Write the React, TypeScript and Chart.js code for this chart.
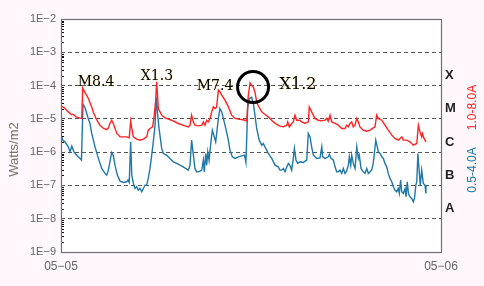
import React, { useEffect, useRef } from "react";
import { Chart, registerables } from "chart.js";

Chart.register(...registerables);

// ---------- data ----------
const xTickValues = [0, 24];
const xTickLabels = ["05−05", "05−06"];
const yTickValues = [1e-9, 1e-8, 1e-7, 1e-6, 1e-5, 1e-4, 1e-3, 1e-2];
const yTickLabels = ["1E−9", "1E−8", "1E−7", "1E−6", "1E−5", "1E−4", "1E−3", "1E−2"];
const classValues = [2e-4, 2e-5, 2e-6, 2e-7, 2e-8];
const classLabels = ["X", "M", "C", "B", "A"];

// 1.0-8.0 A channel (hours after 05-05 00:00, W/m2)
const longTimes = [
  0, 0.15, 0.25, 0.46, 0.68, 0.76, 0.95, 1.2, 1.31, 1.37, 1.52, 1.72, 1.94, 2.04, 2.25, 2.46, 2.67, 2.89, 2.99,
  3.09, 3.2, 3.3, 3.52, 3.73, 4.15, 4.31, 4.4, 4.47, 4.57, 4.78, 4.99, 5.2, 5.41, 5.51, 5.62, 5.79, 5.89, 5.98,
  6.04, 6.09, 6.15, 6.36, 6.57, 6.99, 7.41, 7.83, 8.04, 8.15, 8.25, 8.36, 8.46, 8.67, 8.89, 8.99, 9.09, 9.2, 9.3,
  9.41, 9.52, 9.62, 9.73, 9.83, 9.94, 10.04, 10.15, 10.36, 10.57, 10.78, 10.99, 11.2, 11.41, 11.62, 11.73, 11.83,
  11.94, 12.04, 12.15, 12.25, 12.36, 12.46, 12.68, 12.88, 13.09, 13.41, 13.62, 13.83, 14.04, 14.26, 14.32, 14.42,
  14.57, 14.67, 14.78, 14.89, 15.09, 15.2, 15.41, 15.62, 15.68, 15.83, 16.04, 16.25, 16.47, 16.67, 16.78, 16.88,
  16.99, 17.1, 17.31, 17.51, 17.73, 17.94, 18.04, 18.15, 18.25, 18.36, 18.46, 18.57, 18.68, 18.78, 18.88, 19.09,
  19.31, 19.52, 19.72, 19.83, 19.94, 20.04, 20.26, 20.46, 20.67, 20.89, 21.09, 21.3, 21.41, 21.52, 21.62, 21.83,
  22.04, 22.25, 22.47, 22.57, 22.67, 22.78, 22.82, 22.93, 23.05,
];
const longFlux = [
  2.4e-5, 2.24e-5, 2.05e-5, 1.62e-5, 1.33e-5, 1.38e-5, 1.15e-5, 1.05e-5, 1.03e-5, 8.4e-5, 6.1e-5, 4.17e-5, 2.29e-5,
  1.58e-5, 9.4e-6, 6.45e-6, 5.25e-6, 4.73e-6, 5.25e-6, 7.26e-6, 9.1e-6, 7.26e-6, 3.72e-6, 2.88e-6, 2.88e-6, 2.69e-6,
  8.5e-6, 5.14e-6, 2.88e-6, 2.45e-6, 2.29e-6, 2.45e-6, 2.88e-6, 4.57e-6, 5.14e-6, 5.74e-6, 1.29e-5, 3.63e-5, 1.3e-4,
  5.9e-5, 2.05e-5, 1.29e-5, 1.07e-5, 9.1e-6, 7.26e-6, 6.15e-6, 5.74e-6, 6.45e-6, 1.29e-5, 8.1e-6, 6.45e-6, 6.15e-6,
  6.45e-6, 8.1e-6, 6.45e-6, 9.1e-6, 8.1e-6, 1.03e-5, 1.62e-5, 2.29e-5, 2.05e-5, 2.29e-5, 7.4e-5, 6.44e-5, 5.13e-5,
  3.63e-5, 2.29e-5, 1.29e-5, 1.03e-5, 9.8e-6, 9.6e-6, 9.1e-6, 8.5e-6, 5.13e-5, 1.2e-4, 1.02e-4, 8.9e-5, 6.3e-5,
  3.23e-5, 2.48e-5, 1.62e-5, 1.35e-5, 1.15e-5, 8.1e-6, 6.78e-6, 6.03e-6, 5.74e-6, 6.45e-6, 8.1e-6, 5.74e-6, 7.26e-6,
  8.1e-6, 1.29e-5, 9.1e-6, 9.1e-6, 8.1e-6, 7.26e-6, 8.1e-6, 2.29e-5, 1.62e-5, 1.03e-5, 9.1e-6, 8.7e-6, 9.1e-6,
  1.03e-5, 8.5e-6, 1.29e-5, 8.1e-6, 7.26e-6, 6.45e-6, 5.14e-6, 5.14e-6, 6.45e-6, 5.74e-6, 7.26e-6, 8.1e-6, 5.74e-6,
  6.45e-6, 1.03e-5, 8.1e-6, 5.74e-6, 4.57e-6, 4.27e-6, 4.57e-6, 5.36e-6, 5.74e-6, 1.29e-5, 1.03e-5, 9.1e-6, 6.45e-6,
  4.57e-6, 3.24e-6, 2.58e-6, 2.29e-6, 2.58e-6, 2.88e-6, 2.29e-6, 2.29e-6, 2.04e-6, 1.62e-6, 1.82e-6, 6.45e-6,
  4.06e-6, 2.88e-6, 3.64e-6, 2.58e-6, 2.04e-6,
];

// 0.5-4.0 A channel
const shortTimes = [
  0, 0.11, 0.25, 0.46, 0.57, 0.68, 0.82, 0.99, 1.2, 1.29, 1.39, 1.52, 1.72, 1.83, 1.94, 2.15, 2.36, 2.57, 2.78, 2.89,
  2.99, 3.09, 3.2, 3.3, 3.41, 3.56, 3.73, 3.93, 4.15, 4.23, 4.31, 4.4, 4.47, 4.57, 4.67, 4.78, 4.88, 4.99, 5.1, 5.2,
  5.31, 5.41, 5.51, 5.62, 5.73, 5.83, 5.94, 6.02, 6.09, 6.19, 6.36, 6.46, 6.67, 6.88, 7.09, 7.31, 7.52, 7.72, 7.94,
  8.04, 8.15, 8.25, 8.36, 8.46, 8.57, 8.78, 8.89, 8.99, 9.05, 9.14, 9.2, 9.27, 9.35, 9.47, 9.56, 9.68, 9.77, 9.94,
  10.04, 10.15, 10.36, 10.57, 10.67, 10.82, 10.99, 11.2, 11.41, 11.59, 11.68, 11.79, 11.89, 12.04, 12.15, 12.25,
  12.36, 12.52, 12.68, 12.78, 12.88, 12.99, 13.09, 13.31, 13.52, 13.72, 13.83, 13.94, 14.04, 14.15, 14.26, 14.36,
  14.45, 14.57, 14.67, 14.74, 14.84, 14.95, 15.09, 15.3, 15.52, 15.62, 15.73, 15.83, 15.94, 16.15, 16.36, 16.47,
  16.53, 16.67, 16.88, 16.95, 17.03, 17.2, 17.31, 17.41, 17.51, 17.62, 17.73, 17.83, 17.94, 18.04, 18.15, 18.21,
  18.3, 18.36, 18.46, 18.57, 18.68, 18.78, 18.84, 18.95, 19.09, 19.2, 19.31, 19.41, 19.52, 19.62, 19.72, 19.79,
  19.88, 19.98, 20.04, 20.15, 20.26, 20.36, 20.46, 20.57, 20.67, 20.78, 20.89, 20.99, 21.09, 21.2, 21.3, 21.37,
  21.45, 21.52, 21.62, 21.73, 21.79, 21.87, 21.94, 22.04, 22.15, 22.25, 22.33, 22.41, 22.47, 22.54, 22.61, 22.69,
  22.78, 22.88, 22.99, 23.05,
];
const shortFlux = [
  3.47e-6, 2.29e-6, 2.04e-6, 1.44e-6, 1.02e-6, 1.51e-6, 1.02e-6, 8.1e-7, 6.48e-7, 5.75e-7, 2.75e-5, 2.16e-5, 1.03e-5,
  7.26e-6, 3.64e-6, 1.44e-6, 6.48e-7, 3.24e-7, 2.3e-7, 2.04e-7, 2.88e-7, 5.12e-7, 9.8e-7, 8.1e-7, 4.07e-7, 2.04e-7,
  1.35e-7, 1.23e-7, 1.29e-7, 1.45e-7, 1.23e-7, 2.04e-6, 2.04e-7, 1.15e-7, 8.1e-8, 9.1e-8, 7.24e-8, 8.1e-8, 6.44e-8,
  8.1e-8, 1.02e-7, 1.02e-7, 1.63e-7, 3.24e-7, 8.1e-7, 2.04e-6, 6.45e-6, 4.47e-5, 1.58e-5, 5.25e-6, 1.29e-6, 9.1e-7,
  8.1e-7, 6.48e-7, 5.12e-7, 4.58e-7, 4.07e-7, 3.62e-7, 3.09e-7, 2.88e-7, 4.07e-7, 2.29e-6, 8.1e-7, 3.24e-7, 2.56e-7,
  2.69e-7, 2.88e-7, 5.75e-7, 2.56e-7, 9.1e-7, 4.07e-7, 1.02e-6, 5.75e-7, 2.04e-6, 4.57e-6, 2.88e-6, 2.04e-6, 1.03e-5,
  2.05e-5, 1.62e-5, 6.45e-6, 2.29e-6, 1.15e-6, 7.23e-7, 6.48e-7, 7.23e-7, 7.74e-7, 8.1e-7, 4.91e-7, 2.05e-5, 4.08e-5,
  4.47e-5, 2.89e-5, 1.29e-5, 5.14e-6, 2.29e-6, 1.62e-6, 1.82e-6, 1.44e-6, 1.15e-6, 9.1e-7, 6.48e-7, 4.07e-7, 3.62e-7,
  2.88e-7, 2.88e-7, 3.24e-7, 2.56e-7, 3.62e-7, 4.58e-7, 4.07e-7, 2.88e-7, 6.48e-7, 1.29e-6, 5.75e-7, 4.58e-7,
  5.12e-7, 4.91e-7, 5.75e-7, 3.64e-6, 2.88e-6, 1.44e-6, 8.1e-7, 6.48e-7, 6.75e-7, 1.44e-6, 7.23e-7, 6.48e-7, 7.23e-7,
  8.5e-7, 6.75e-7, 5.75e-7, 3.62e-7, 2.56e-7, 2.56e-7, 2.88e-7, 2.3e-7, 3.24e-7, 2.3e-7, 2.69e-7, 4.07e-7, 7.23e-7,
  4.07e-7, 8.1e-7, 4.58e-7, 3.24e-7, 1.44e-6, 6.48e-7, 8.1e-7, 3.24e-7, 2.56e-7, 2.3e-7, 3.24e-7, 2.3e-7, 2.56e-7,
  2.88e-7, 4.58e-7, 9.1e-7, 2.29e-6, 1.44e-6, 1.02e-6, 9.1e-7, 7.23e-7, 6.48e-7, 4.58e-7, 3.62e-7, 2.3e-7, 1.63e-7,
  1.29e-7, 9.1e-8, 7.24e-8, 6.44e-8, 8.1e-8, 5.77e-8, 1.45e-7, 6.44e-8, 5.77e-8, 8.1e-8, 4.56e-8, 1.29e-7, 5.77e-8,
  4.56e-8, 4.08e-8, 3.23e-8, 4.17e-8, 1.02e-7, 1.29e-7, 9.1e-7, 3.24e-7, 1.02e-7, 2.88e-7, 1.15e-7, 1.02e-7, 5.77e-8,
];

// flare annotations (anchored in data space)
const flareLabels = ["M8.4", "X1.3", "M7.4", "X1.2"];
const flareLabelTimes = [2.21, 6.06, 9.73, 14.97];
const flareLabelFlux = [1.26e-4, 1.9e-4, 9.5e-5, 1.02e-4];
const flareLabelSizes = [14, 14, 14, 16];
const circleTime = 12.13;
const circleFlux = 9e-5;

const RED = "#ff2222";
const BLUE = "#1f78a8";

const decorPlugin = {
  id: "decor",
  beforeDraw(chart: any) {
    const { ctx, chartArea: a, width, height } = chart;
    ctx.save();
    ctx.fillStyle = "#fff7fb";
    ctx.fillRect(0, 0, width, height);
    ctx.fillStyle = "#ffffff";
    ctx.fillRect(a.left, a.top, a.right - a.left, a.bottom - a.top);
    ctx.restore();
  },
  afterDatasetsDraw(chart: any) {
    const { ctx, scales } = chart;
    const xs = scales.x;
    const ys = scales.y;
    ctx.save();
    // annotations
    ctx.textAlign = "center";
    ctx.textBaseline = "middle";
    ctx.fillStyle = "#000";
    flareLabels.forEach((lbl, i) => {
      ctx.font = `${flareLabelSizes[i]}px "DejaVu Serif", serif`;
      ctx.shadowColor = "rgba(255,230,150,0.9)";
      ctx.shadowBlur = 2;
      ctx.fillText(lbl, xs.getPixelForValue(flareLabelTimes[i]), ys.getPixelForValue(flareLabelFlux[i]));
    });
    ctx.shadowBlur = 0;
    ctx.shadowColor = "transparent";
    // circle
    ctx.beginPath();
    ctx.lineWidth = 3;
    ctx.strokeStyle = "#000";
    ctx.arc(xs.getPixelForValue(circleTime), ys.getPixelForValue(circleFlux), 15.5, 0, Math.PI * 2);
    ctx.stroke();
    ctx.restore();
  },
  afterDraw(chart: any) {
    const { ctx, chartArea: a, scales } = chart;
    const ys = scales.y;
    ctx.save();
    // minor ticks on the left, inside
    ctx.strokeStyle = "#000";
    ctx.lineWidth = 1;
    ctx.beginPath();
    for (let d = -9; d < -2; d++) {
      for (let m = 2; m <= 9; m++) {
        const y = Math.round(ys.getPixelForValue(m * Math.pow(10, d))) + 0.5;
        ctx.moveTo(a.left, y);
        ctx.lineTo(a.left + 3, y);
      }
    }
    ctx.stroke();
    // frame
    ctx.strokeStyle = "#6e6e6e";
    ctx.lineWidth = 1.2;
    ctx.strokeRect(a.left + 0.5, a.top + 0.5, a.right - a.left, a.bottom - a.top);
    // y title
    ctx.fillStyle = "#7a7066";
    ctx.font = '13px "Liberation Sans", Arial, sans-serif';
    ctx.textAlign = "center";
    ctx.textBaseline = "middle";
    ctx.translate(14, a.top + (a.bottom - a.top) * 0.56);
    ctx.rotate(-Math.PI / 2);
    ctx.fillText("Watts/m2", 0, 0);
    ctx.restore();
    // right-side channel titles
    ctx.save();
    ctx.font = '12px "Liberation Sans", Arial, sans-serif';
    ctx.textAlign = "center";
    ctx.textBaseline = "middle";
    const rx = a.right + 32;
    ctx.save();
    ctx.translate(rx, ys.getPixelForValue(2.2e-5));
    ctx.rotate(-Math.PI / 2);
    ctx.fillStyle = RED;
    ctx.fillText("1.0-8.0A", 0, 0);
    ctx.restore();
    ctx.save();
    ctx.translate(rx, ys.getPixelForValue(2.9e-7));
    ctx.rotate(-Math.PI / 2);
    ctx.fillStyle = BLUE;
    ctx.fillText("0.5-4.0A", 0, 0);
    ctx.restore();
    ctx.restore();
  },
};

export default function App() {
  const ref = useRef<HTMLCanvasElement | null>(null);

  useEffect(() => {
    document.body.style.margin = "0";
    const canvas = ref.current;
    if (!canvas) return;
    const chart = new Chart(canvas, {
      type: "line",
      data: {
        datasets: [
          {
            label: "1.0-8.0A",
            data: longTimes.map((t, i) => ({ x: t, y: longFlux[i] })),
            borderColor: RED,
            borderWidth: 1.4,
            pointRadius: 0,
            tension: 0,
            fill: false,
          },
          {
            label: "0.5-4.0A",
            data: shortTimes.map((t, i) => ({ x: t, y: shortFlux[i] })),
            borderColor: BLUE,
            borderWidth: 1.4,
            pointRadius: 0,
            tension: 0,
            fill: false,
          },
        ],
      },
      plugins: [decorPlugin],
      options: {
        animation: false,
        responsive: false,
        devicePixelRatio: 1,
        layout: { padding: { top: 19, left: 0, right: 0, bottom: 0 } },
        plugins: { legend: { display: false }, tooltip: { enabled: false }, title: { display: false } },
        events: [],
        scales: {
          x: {
            type: "linear",
            min: 0,
            max: 24,
            afterBuildTicks: (s: any) => {
              s.ticks = xTickValues.map((v) => ({ value: v }));
            },
            afterFit: (s: any) => {
              s.height = 34;
            },
            grid: { display: false, drawTicks: false },
            border: { display: false },
            ticks: {
              autoSkip: false,
              maxRotation: 0,
              padding: 7,
              color: "#666",
              font: { family: '"Liberation Sans", Arial, sans-serif', size: 12 },
              callback: (v: any) => {
                const i = xTickValues.indexOf(Number(v));
                return i >= 0 ? xTickLabels[i] : "";
              },
            },
          },
          y: {
            type: "logarithmic",
            position: "left",
            min: 1e-9,
            max: 1e-2,
            afterBuildTicks: (s: any) => {
              s.ticks = yTickValues.map((v) => ({ value: v, major: true }));
            },
            afterFit: (s: any) => {
              s.width = 61;
            },
            grid: { display: true, color: "#555", lineWidth: 1, drawTicks: false },
            border: { display: false, dash: [4, 3] },
            ticks: {
              autoSkip: false,
              padding: 5,
              color: "#666",
              font: { family: '"Liberation Sans", Arial, sans-serif', size: 11 },
              callback: (v: any) => {
                const i = yTickValues.findIndex((t) => Math.abs(Math.log10(t) - Math.log10(Number(v))) < 1e-6);
                return i >= 0 ? yTickLabels[i] : "";
              },
            },
          },
          y2: {
            type: "logarithmic",
            position: "right",
            min: 1e-9,
            max: 1e-2,
            afterBuildTicks: (s: any) => {
              s.ticks = classValues.map((v) => ({ value: v }));
            },
            afterFit: (s: any) => {
              s.width = 43;
            },
            grid: { display: false, drawTicks: false },
            border: { display: false },
            ticks: {
              autoSkip: false,
              padding: 4,
              color: "#222",
              font: { family: '"Liberation Sans", Arial, sans-serif', size: 13, weight: "bold" },
              callback: (v: any) => {
                const i = classValues.findIndex((t) => Math.abs(Math.log10(t) - Math.log10(Number(v))) < 1e-6);
                return i >= 0 ? classLabels[i] : "";
              },
            },
          },
        },
      },
    } as any);
    return () => chart.destroy();
  }, []);

  return <canvas ref={ref} width={484} height={286} style={{ display: "block" }} />;
}
